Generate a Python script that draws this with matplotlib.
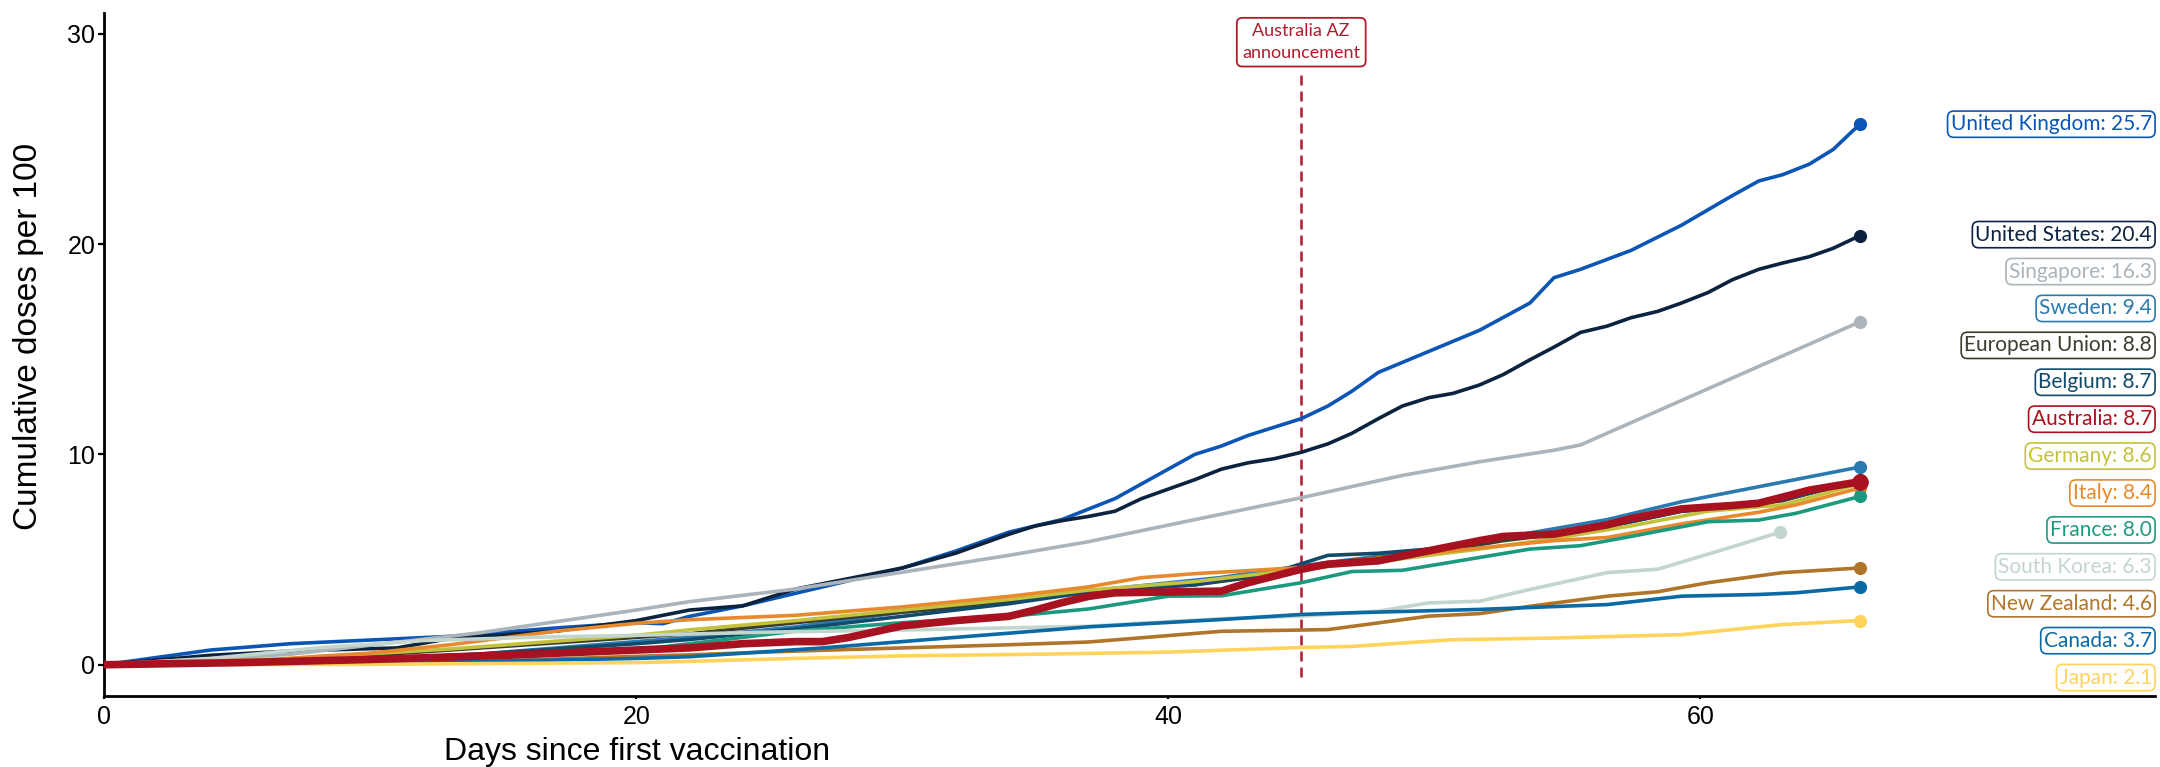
import numpy as np
import matplotlib
matplotlib.use("Agg")
import matplotlib.pyplot as plt
import matplotlib.transforms as mtransforms

# days since each country's first dose, cumulative doses per 100 people
countries = ["United Kingdom", "United States", "Singapore", "Sweden", "European Union",
             "Belgium", "Australia", "Germany", "Italy", "France", "South Korea",
             "New Zealand", "Canada", "Japan"]

colors = ["#0b56b4", "#0c2340", "#abb4ba", "#2a7ab0", "#3b3d2f", "#114b6b", "#a8111f",
          "#c4c13c", "#e8892e", "#1c9a7f", "#c2d6cd", "#b0752a", "#0b6aa6", "#ffd35c"]

uk_days = [0, 4, 7, 13, 17, 20, 21, 22, 24, 26, 28, 30, 32, 34, 36, 38, 39, 41, 42, 43, 44,
           45, 46, 46.9, 47.9, 49.8, 51.7, 53.6, 54.5, 55.5, 57.4, 59.3, 61.2, 62.2, 63.1,
           64.1, 65, 66]
uk_vals = [0, 0.7, 1.0, 1.35, 1.75, 2.0, 1.95, 2.3, 2.8, 3.4, 4.0, 4.6, 5.4, 6.3, 6.9, 7.9, 8.6,
           10.0, 10.4, 10.9, 11.3, 11.7, 12.3, 13.0, 13.9, 14.9, 15.9, 17.2, 18.4, 18.8, 19.7,
           20.9, 22.3, 23.0, 23.3, 23.8, 24.5, 25.7]

us_days = [0, 4, 7, 11, 13, 17, 20, 22, 23, 24, 26, 28, 30, 32, 34, 35, 36, 37, 38, 39, 41, 42,
           43, 44, 45, 46, 46.9, 47.9, 48.8, 49.8, 50.7, 51.7, 52.6, 53.6, 54.5, 55.5, 56.5,
           57.4, 58.4, 59.3, 60.3, 61.2, 62.2, 63.1, 64.1, 65, 66]
us_vals = [0, 0.45, 0.65, 0.8, 1.25, 1.6, 2.1, 2.6, 2.7, 2.8, 3.6, 4.1, 4.6, 5.3, 6.2, 6.6, 6.85,
           7.05, 7.3, 7.9, 8.8, 9.3, 9.6, 9.8, 10.1, 10.5, 11.0, 11.7, 12.3, 12.7, 12.9, 13.3,
           13.8, 14.5, 15.1, 15.8, 16.1, 16.5, 16.8, 17.2, 17.7, 18.3, 18.8, 19.1, 19.4, 19.8,
           20.4]

sg_days = [0, 7, 14, 20, 22, 26, 30, 34, 37, 41, 45, 48.8, 51.7, 54.5, 55.5, 66]
sg_vals = [0, 0.5, 1.5, 2.6, 3.0, 3.6, 4.4, 5.2, 5.85, 6.9, 7.94, 9.0, 9.65, 10.2, 10.45, 16.3]

se_days = [0, 7, 14, 20, 22, 26, 30, 34, 37, 42, 45, 48.8, 52.6, 56.5, 59.3, 66]
se_vals = [0, 0.1, 0.5, 1.1, 1.3, 1.8, 2.5, 3.0, 3.5, 4.15, 4.7, 5.3, 6.05, 6.9, 7.75, 9.4]

eu_days = [0, 7, 13, 20, 22, 26, 30, 34, 37, 41, 44, 45, 46.9, 49.8, 52.6, 55.5, 57.4, 59.3,
           61.2, 63.1, 66]
eu_vals = [0, 0.2, 0.7, 1.3, 1.47, 2.0, 2.5, 2.95, 3.5, 3.8, 4.3, 4.55, 4.95, 5.3, 5.9, 6.35,
           6.8, 7.3, 7.5, 7.8, 8.8]

be_days = [0, 7, 14, 20, 22, 26, 30, 34, 37, 41, 44, 45, 46, 47.9, 49.8, 52.6, 55.5, 57.4,
           59.3, 62.2, 63.6, 66]
be_vals = [0, 0.1, 0.5, 1.0, 1.2, 1.7, 2.3, 2.9, 3.45, 3.8, 4.4, 4.8, 5.2, 5.3, 5.5, 6.0, 6.3,
           6.8, 7.3, 7.6, 8.0, 8.7]

au_days = [0, 5, 10, 15, 20, 22, 24, 26, 27, 28, 30, 32, 34, 35, 36, 37, 38, 42, 43, 45, 46,
           47.9, 49.8, 51.7, 52.6, 54.5, 56.5, 57.4, 59.3, 61.2, 62.2, 63.1, 64.1, 66]
au_vals = [0, 0.1, 0.25, 0.45, 0.7, 0.8, 1.0, 1.1, 1.1, 1.3, 1.85, 2.1, 2.3, 2.6, 2.95, 3.25,
           3.42, 3.5, 3.9, 4.54, 4.78, 4.94, 5.42, 5.9, 6.1, 6.21, 6.65, 6.95, 7.41, 7.57, 7.68,
           7.97, 8.3, 8.7]

de_days = [0, 7, 13, 20, 22, 26, 30, 34, 37, 41, 45, 47.9, 51.7, 54.5, 57.4, 60.3, 63.1, 66]
de_vals = [0, 0.3, 0.75, 1.4, 1.66, 2.1, 2.6, 3.1, 3.55, 3.95, 4.55, 4.9, 5.5, 6.0, 6.6, 7.3,
           7.6, 8.6]

it_days = [0, 5, 8, 10, 13, 17, 20, 22, 26, 30, 34, 37, 39, 41, 45, 46.9, 50.7, 54.5, 56.5,
           59.3, 62.2, 63.6, 66]
it_vals = [0, 0.1, 0.4, 0.55, 0.95, 1.6, 1.97, 2.14, 2.35, 2.75, 3.25, 3.7, 4.14, 4.33, 4.62,
           4.94, 5.42, 5.9, 6.05, 6.7, 7.25, 7.6, 8.4]

fr_days = [0, 7, 13, 20, 22, 26, 30, 34, 37, 40, 42, 45, 46.9, 48.8, 51.7, 53.6, 55.5, 57.4,
           60.3, 62.2, 63.6, 66]
fr_vals = [0, 0.05, 0.2, 0.7, 1.0, 1.6, 2.0, 2.3, 2.65, 3.26, 3.28, 3.9, 4.43, 4.49, 5.1, 5.5,
           5.66, 6.1, 6.8, 6.88, 7.2, 8.0]

kr_days = [0, 4, 8, 12, 16, 20, 25, 30, 37, 42, 45, 47.9, 49.8, 51.7, 53.6, 56.5, 58.4, 60.3, 63]
kr_vals = [0, 0.3, 0.8, 1.15, 1.3, 1.4, 1.55, 1.65, 1.83, 2.19, 2.31, 2.55, 2.94, 3.02, 3.58,
           4.38, 4.54, 5.26, 6.3]

nz_days = [0, 7, 14, 20, 22, 26, 30, 34, 37, 42, 46, 47.9, 49.8, 51.7, 53.6, 56.5, 58.4, 60.3,
           63.1, 66]
nz_vals = [0, 0.05, 0.15, 0.4, 0.47, 0.65, 0.8, 0.95, 1.08, 1.59, 1.67, 1.99, 2.31, 2.43, 2.78,
           3.26, 3.47, 3.9, 4.38, 4.6]

ca_days = [0, 7, 14, 20, 22, 27, 30, 34, 37, 42, 45, 46.9, 51.7, 56.5, 59.3, 62.2, 63.6, 66]
ca_vals = [0, 0.05, 0.15, 0.3, 0.38, 0.8, 1.1, 1.5, 1.8, 2.15, 2.39, 2.47, 2.63, 2.86, 3.26,
           3.34, 3.42, 3.7]

jp_days = [0, 10, 20, 22, 26, 30, 35, 40, 45, 46.9, 50.7, 54.5, 59.3, 61.2, 63.1, 66]
jp_vals = [0, 0.02, 0.1, 0.16, 0.3, 0.42, 0.5, 0.6, 0.82, 0.87, 1.19, 1.27, 1.43, 1.67, 1.91, 2.1]

series_days = [uk_days, us_days, sg_days, se_days, eu_days, be_days, au_days, de_days,
               it_days, fr_days, kr_days, nz_days, ca_days, jp_days]
series_vals = [uk_vals, us_vals, sg_vals, se_vals, eu_vals, be_vals, au_vals, de_vals,
               it_vals, fr_vals, kr_vals, nz_vals, ca_vals, jp_vals]

az_day = 45
az_text = "Australia AZ\nannouncement"
red = "#b01c2e"

fig = plt.figure(figsize=(21.6, 7.67), dpi=100)
ax = fig.add_axes([0.0483, 0.0922, 0.9494, 0.8912])

# lines, Australia drawn last so it sits on top
order = [i for i in range(len(countries)) if countries[i] != "Australia"] + [countries.index("Australia")]
for i in order:
    thick = countries[i] == "Australia"
    ax.plot(series_days[i], series_vals[i], color=colors[i], lw=5.5 if thick else 2.6,
            solid_joinstyle="round", solid_capstyle="round", zorder=4 if thick else 3)
    ax.plot(series_days[i][-1], series_vals[i][-1], "o", color=colors[i],
            ms=11 if thick else 8.5, zorder=4 if thick else 3)

# announcement marker
ax.plot([az_day, az_day], [-0.56, 28.2], color=red, lw=1.8, ls=(0, (4, 2.4)), zorder=2)
ax.text(az_day, 29.6, az_text, ha="center", va="center", color=red, fontsize=13,
        family="Lato", linespacing=1.45,
        bbox=dict(boxstyle="round,pad=0.3,rounding_size=0.3", fc="white", ec=red, lw=1.3))

# end labels, stacked down the right edge
trans = mtransforms.blended_transform_factory(ax.transAxes, ax.transData)
label_y = [series_vals[0][-1]] + list(20.45 - 1.755 * np.arange(len(countries) - 1))
for i, name in enumerate(countries):
    ax.text(0.9985, label_y[i], f"{name}: {series_vals[i][-1]:.1f}", transform=trans,
            ha="right", va="center", color=colors[i], fontsize=15, family="Lato",
            clip_on=False, zorder=6,
            bbox=dict(boxstyle="round,pad=0.15,rounding_size=0.3", fc="white",
                      ec=colors[i], lw=1.2))

ax.set_xlim(0, 77.1)
ax.set_ylim(-1.5, 31.0)
ax.set_xticks([0, 20, 40, 60])
ax.set_yticks([0, 10, 20, 30])
for s in ["top", "right"]:
    ax.spines[s].set_visible(False)
for s in ["left", "bottom"]:
    ax.spines[s].set_linewidth(2)
ax.tick_params(axis="y", length=4.5, width=1.6, pad=2, labelsize=18)
ax.tick_params(axis="x", length=2, width=1.6, pad=4, labelsize=18)
for lab in ax.get_xticklabels() + ax.get_yticklabels():
    lab.set_family("Liberation Sans")

ax.set_xlabel("Days since first vaccination", fontsize=23, family="Liberation Sans")
ax.set_ylabel("Cumulative doses per 100", fontsize=24, family="Liberation Sans")
ax.xaxis.set_label_coords(0.26, -0.082)
ax.xaxis.label.set_va("center")
ax.yaxis.set_label_coords(-0.037, 0.526)
ax.yaxis.label.set_va("center")

fig.savefig("out.png", dpi=100)
